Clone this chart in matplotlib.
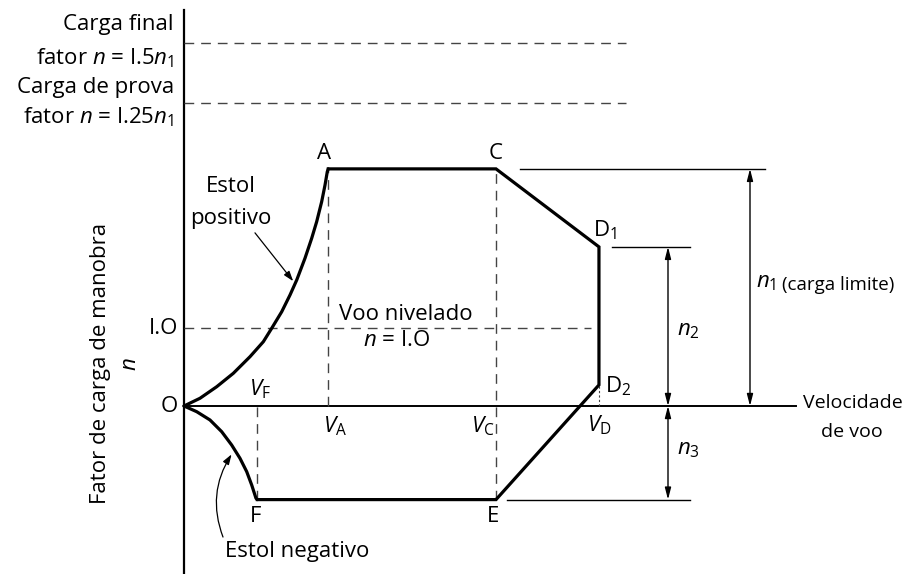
import matplotlib
matplotlib.use("Agg")
import matplotlib.pyplot as plt

plt.rcParams['font.family'] = ['Open Sans', 'DejaVu Sans']
plt.rcParams['mathtext.fontset'] = 'custom'
plt.rcParams['mathtext.rm'] = 'Open Sans'
plt.rcParams['mathtext.it'] = 'Open Sans:italic'

# ---- data (V in arbitrary speed units, n in load-factor units)
V_pos_stall = [0.0, 0.205, 0.419, 0.632, 0.846, 1.017, 1.124, 1.253, 1.359, 1.445,
               1.551, 1.637, 1.701, 1.765, 1.808, 1.837, 1.85]
n_pos_stall = [0.0, 0.099, 0.247, 0.419, 0.632, 0.824, 0.996, 1.209, 1.423, 1.615,
               1.894, 2.150, 2.363, 2.619, 2.833, 3.004, 3.04]
V_neg_stall = [0.0, 0.163, 0.333, 0.483, 0.611, 0.718, 0.804, 0.868, 0.923, 0.94]
n_neg_stall = [0.0, -0.073, -0.179, -0.329, -0.50, -0.671, -0.842, -1.013, -1.183, -1.20]

V_F, V_A, V_C, V_D = 0.94, 1.85, 4.00, 5.32
n1, n_D1, n_D2, n3 = 3.04, 2.04, 0.27, -1.20
n_level = 1.0
n_ultimate = 4.66   # 1.5 n1 line
n_proof = 3.88      # 1.25 n1 line

env_V = [V_A, V_C, V_D, V_D, V_C, V_F]
env_n = [n1, n1, n_D1, n_D2, n3, n3]

fig = plt.figure(figsize=(9.04, 5.74), dpi=100)
ax = fig.add_axes([0, 0, 1, 1])
ax.set_xlim(-184 / 78, (904 - 184) / 78)
ax.set_ylim(-(574 - 406) / 78, 406 / 78)
ax.axis('off')

k = 'black'
g = '#444444'
dash = (0, (7, 5))

# axes
ax.plot([0, 0], [-2.2, 5.08], color=k, lw=1.6)
ax.plot([0, 7.85], [0, 0], color=k, lw=1.4)

# dashed reference lines
ax.plot([0, 5.67], [n_ultimate, n_ultimate], color=g, lw=1.0, ls=dash)
ax.plot([0, 5.67], [n_proof, n_proof], color=g, lw=1.0, ls=dash)
ax.plot([0, 5.22], [n_level, n_level], color=g, lw=1.0, ls=dash)
ax.plot([V_A, V_A], [0, n1], color=g, lw=1.0, ls=dash)
ax.plot([V_C, V_C], [n3, n1], color=g, lw=1.0, ls=dash)
ax.plot([V_F, V_F], [n3, 0], color=g, lw=1.0, ls=dash)
ax.plot([V_D, V_D], [0, n_D2], color=g, lw=0.8, ls=(0, (2, 2)))

# envelope
ax.plot(V_pos_stall, n_pos_stall, color=k, lw=2.3, solid_capstyle='round',
        solid_joinstyle='round')
ax.plot(V_neg_stall, n_neg_stall, color=k, lw=2.3, solid_capstyle='round',
        solid_joinstyle='round')
ax.plot(env_V, env_n, color=k, lw=2.3, solid_joinstyle='miter')

# dimension lines
ax.plot([4.31, 7.45], [n1, n1], color=k, lw=1.0)
ax.plot([5.49, 6.49], [n_D1, n_D1], color=k, lw=1.0)
ax.plot([4.14, 6.49], [n3, n3], color=k, lw=1.0)

x_n1, x_n2 = (750 - 184) / 78, (668 - 184) / 78
ap = dict(arrowstyle='<|-|>,head_length=0.7,head_width=0.18', color=k, lw=1.0,
          shrinkA=0, shrinkB=0)
ax.annotate('', xy=(x_n1, n1), xytext=(x_n1, 0), arrowprops=ap)
ax.annotate('', xy=(x_n2, n_D1), xytext=(x_n2, 0), arrowprops=ap)
ax.annotate('', xy=(x_n2, 0), xytext=(x_n2, n3), arrowprops=ap)

# point labels
fs = 16
ax.text(V_A - 0.05, n1 + 0.2, 'A', ha='center', va='center', fontsize=fs)
ax.text(V_C - 0.01, n1 + 0.2, 'C', ha='center', va='center', fontsize=fs)
ax.text(V_D - 0.08, n_D1 + 0.22, r'D$_\mathregular{1}$', ha='left', va='center', fontsize=fs)
ax.text(V_D + 0.08, n_D2 - 0.02, r'D$_\mathregular{2}$', ha='left', va='center', fontsize=fs)
ax.text(V_F - 0.02, n3 - 0.22, 'F', ha='center', va='center', fontsize=fs)
ax.text(V_C - 0.04, n3 - 0.22, 'E', ha='center', va='center', fontsize=fs)
ax.text(-0.08, 0, 'O', ha='right', va='center', fontsize=fs)
ax.text(-0.08, n_level, 'I.O', ha='right', va='center', fontsize=fs)

ax.text(V_F + 0.03, 0.21, r'$V_\mathregular{F}$', ha='center', va='center', fontsize=fs)
ax.text(V_A + 0.09, -0.26, r'$V_\mathregular{A}$', ha='center', va='center', fontsize=fs)
ax.text(V_C - 0.17, -0.26, r'$V_\mathregular{C}$', ha='center', va='center', fontsize=fs)
ax.text(V_D + 0.0, -0.24, r'$V_\mathregular{D}$', ha='center', va='center', fontsize=fs)

ax.text(7.94, 0.04, 'Velocidade', ha='left', va='center', fontsize=14)
ax.text(8.17, -0.33, 'de voo', ha='left', va='center', fontsize=14)

ax.text(x_n1 + 0.08, 1.58, r'$n_\mathregular{1}$', ha='left', va='center', fontsize=16)
ax.text(x_n1 + 0.41, 1.55, '(carga limite)', ha='left', va='center', fontsize=13.5)
ax.text(x_n2 + 0.11, 0.97, r'$n_\mathregular{2}$', ha='left', va='center', fontsize=16)
ax.text(x_n2 + 0.11, -0.56, r'$n_\mathregular{3}$', ha='left', va='center', fontsize=16)

ax.text(2.85, 1.17, 'Voo nivelado', ha='center', va='center', fontsize=fs)
ax.text(2.72, 0.84, r'$n$ = I.O', ha='center', va='center', fontsize=fs)

ax.text(0.6, 2.81, 'Estol', ha='center', va='center', fontsize=fs)
ax.text(0.6, 2.41, 'positivo', ha='center', va='center', fontsize=fs)
ax.annotate('', xy=(1.4, 1.6), xytext=(0.91, 2.22),
            arrowprops=dict(arrowstyle='-|>,head_length=0.6,head_width=0.2',
                            color=k, lw=0.9, shrinkA=0, shrinkB=0))
ax.text(0.53, -1.87, 'Estol negativo', ha='left', va='center', fontsize=fs)
ax.annotate('', xy=(0.61, -0.62), xytext=(0.5, -1.68),
            arrowprops=dict(arrowstyle='-|>,head_length=0.6,head_width=0.2',
                            color=k, lw=0.9, shrinkA=0, shrinkB=0,
                            connectionstyle='arc3,rad=-0.25'))

# left-side captions
ax.text(-0.13, 4.885, 'Carga final', ha='right', va='center', fontsize=fs)
ax.text(-0.13, 4.46, r'fator $n$ = I.5$n_\mathregular{1}$', ha='right', va='center', fontsize=fs)
ax.text(-0.13, 4.08, 'Carga de prova', ha='right', va='center', fontsize=fs)
ax.text(-0.13, 3.70, r'fator $n$ = I.25$n_\mathregular{1}$', ha='right', va='center', fontsize=fs)

# y-axis label
ax.text((101 - 184) / 78, 0.54, 'Fator de carga de manobra', rotation=90,
        ha='center', va='center', fontsize=fs)
ax.text((131 - 184) / 78, 0.54, r'$n$', rotation=90, ha='center', va='center', fontsize=fs)

fig.savefig('out.png', dpi=100)
